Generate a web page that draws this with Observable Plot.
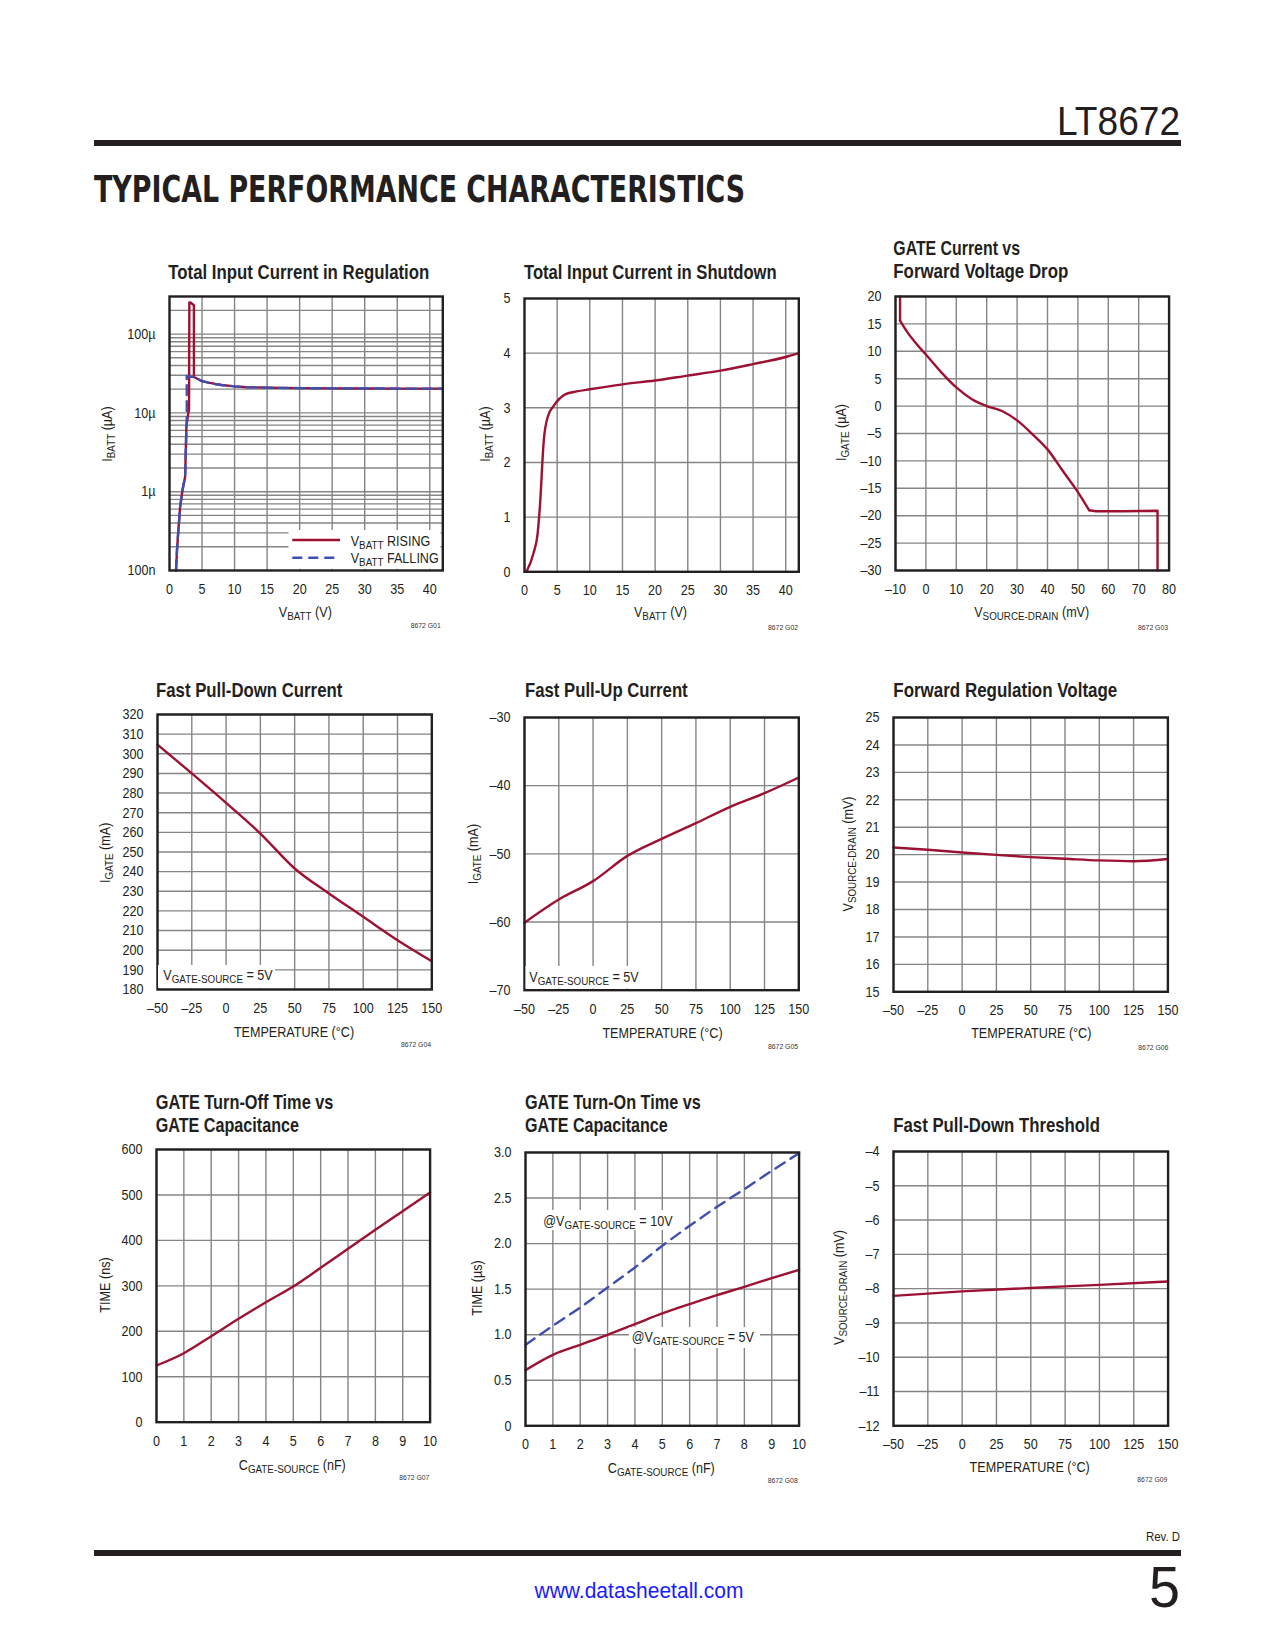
<!DOCTYPE html>
<html><head><meta charset="utf-8">
<script src="https://cdn.jsdelivr.net/npm/d3@7"></script>
<script src="https://cdn.jsdelivr.net/npm/@observablehq/plot@0.6"></script>
<style>
html,body{margin:0;padding:0;background:#fff;}
#page{position:relative;width:1275px;height:1650px;overflow:hidden;background:#fff;}
#page svg{position:absolute;}
</style></head><body><div id="page"></div>
<script>
// ---------------- DATA ----------------
// G01 Total Input Current in Regulation (I in µA, log)
const g01RiseV = [1.0, 1.15, 1.32, 1.63, 2.0, 2.4, 2.6, 2.85, 3.0, 3.05, 3.2, 3.75, 3.75, 4.5, 5, 6, 7, 8, 10, 12, 15, 20, 25, 30, 35, 42];
const g01RiseI = [0.1, 0.18, 0.29, 0.64, 1.05, 1.55, 6.7, 9.5, 11, 253, 253, 232, 28.5, 26.5, 25.3, 24.2, 23.3, 22.6, 21.7, 21.2, 20.9, 20.6, 20.45, 20.4, 20.35, 20.3];
const g01FallV = [1.0, 1.15, 1.32, 1.63, 2.0, 2.4, 2.6, 2.65, 2.65, 3.1, 3.75, 4.5, 5, 6, 7, 8, 10, 12, 15, 20, 25, 30, 35, 42];
const g01FallI = [0.1, 0.18, 0.29, 0.64, 1.05, 1.55, 6.7, 8, 29.5, 29.0, 28.5, 26.5, 25.3, 24.2, 23.3, 22.6, 21.7, 21.2, 20.9, 20.6, 20.45, 20.4, 20.35, 20.3];
const vbattTicks = [0, 5, 10, 15, 20, 25, 30, 35, 40];
const g01YTicks = [0.1, 1, 10, 100];
const g01YLabels = ["100n", "1µ", "10µ", "100µ"];

// G02 Total Input Current in Shutdown (µA)
const g02V = [0.3, 1.4, 2.0, 2.35, 2.95, 3.6, 4.5, 6.3, 8, 10, 15, 20, 25, 30, 35, 40, 42];
const g02I = [0, 0.35, 0.69, 1.18, 2.4, 2.85, 3.04, 3.25, 3.3, 3.34, 3.43, 3.5, 3.59, 3.68, 3.8, 3.93, 4.0];
const g02YTicks = [0, 1, 2, 3, 4, 5];

// G03 GATE Current vs Forward Voltage Drop
const g03V = [-8.5, -8.5, -6, -3, 0, 5, 10, 15, 20, 25, 30, 35, 40, 45, 50, 53.7, 56, 65, 76.2, 76.2];
const g03I = [20, 15.6, 13.4, 11.3, 9.4, 6.2, 3.4, 1.3, 0, -0.9, -2.6, -5.1, -7.9, -11.8, -15.7, -19.0, -19.2, -19.2, -19.1, -30];
const g03XTicks = [-10, 0, 10, 20, 30, 40, 50, 60, 70, 80];
const g03YTicks = [-30, -25, -20, -15, -10, -5, 0, 5, 10, 15, 20];

// Temperature charts
const tempC = [-50, -25, 0, 25, 50, 75, 100, 125, 150];
const g04I = [304.7, 290, 275, 259.4, 241.6, 228.9, 217, 205.1, 194.4];
const g04YTicks = [180, 190, 200, 210, 220, 230, 240, 250, 260, 270, 280, 290, 300, 310, 320];
const g05I = [-60.1, -56.7, -54.0, -50.3, -47.8, -45.5, -43.1, -41.1, -38.8];
const g05YTicks = [-70, -60, -50, -40, -30];
const g06V = [20.26, 20.18, 20.08, 19.99, 19.91, 19.85, 19.79, 19.76, 19.84];
const g06YTicks = [15, 16, 17, 18, 19, 20, 21, 22, 23, 24, 25];
const g09Temp = [-50, 0, 50, 100, 150];
const g09V = [-8.21, -8.08, -7.98, -7.89, -7.79];
const g09YTicks = [-12, -11, -10, -9, -8, -7, -6, -5, -4];

// Capacitance charts
const capNF = [0, 1, 2, 3, 4, 5, 6, 7, 8, 9, 10];
const g07T = [124.7, 151.8, 189.2, 227.4, 264, 298.5, 339.6, 381.4, 423.2, 464.3, 505.4];
const g07YTicks = [0, 100, 200, 300, 400, 500, 600];
const g08T5 = [0.611, 0.779, 0.889, 0.999, 1.116, 1.233, 1.336, 1.434, 1.526, 1.621, 1.712];
const g08T10 = [0.889, 1.098, 1.299, 1.518, 1.738, 1.976, 2.195, 2.404, 2.598, 2.799, 2.993];
const g08YTicks = [0, 0.5, 1.0, 1.5, 2.0, 2.5, 3.0];

// ---------------- STYLE ----------------
const FONT = "'Liberation Sans Narrow','Arial Narrow','Liberation Sans',Arial,sans-serif";
const RED = "#9d1232", BLUE = "#3e4fb0", GRID = "#858585", INK = "#231f20";
const NARROW = 0.84;
const page = document.getElementById("page");
const dash = d => (d < 0 ? "\u2013" + Math.abs(d) : String(d));
const pts = (xs, ys) => xs.map((x, i) => ({x, y: ys[i]}));

function chart(c) {
  const mL = 60, mR = 26, mT = 12, mB = 36;
  const W = c.fr - c.fl + mL + mR, H = c.fb - c.ft + mT + mB;
  const marks = [
    Plot.ruleX(c.xGrid, {stroke: GRID, strokeWidth: 1.4}),
    Plot.ruleY(c.yGrid, {stroke: GRID, strokeWidth: 1.4}),
    ...c.series.map(s => Plot.line(pts(s.x, s.y), {x: "x", y: "y", stroke: s.color, strokeWidth: 2.4,
      strokeDasharray: s.dash || null, curve: s.curve || c.curve || "monotone-x"})),
    Plot.frame({stroke: INK, strokeWidth: 2.4})
  ];
  const svg = Plot.plot({
    width: W, height: H, marginLeft: mL, marginRight: mR, marginTop: mT, marginBottom: mB,
    x: {type: c.xType || "linear", domain: c.xDomain, ticks: c.xTicks, tickFormat: c.xFmt || dash, tickSize: 0, tickPadding: 13, label: null},
    y: {type: c.yType || "linear", domain: c.yDomain, ticks: c.yTicks, tickFormat: c.yFmt || dash, tickSize: 0, tickPadding: 14, label: null},
    style: {fontSize: "15px", fontFamily: FONT, color: INK, background: "none", overflow: "visible"},
    marks
  });
  svg.style.left = (c.fl - mL) + "px";
  svg.style.top = (c.ft - mT) + "px";
  page.appendChild(svg);
  // condense tick labels around their anchor point
  svg.querySelectorAll("text").forEach(t => {
    const b = t.getBBox();
    const anc = getComputedStyle(t).textAnchor;
    const ax = anc === "end" ? b.x + b.width : anc === "middle" ? b.x + b.width / 2 : b.x;
    const tr = t.getAttribute("transform") || "";
    t.setAttribute("transform", `${tr} translate(${ax},0) scale(${NARROW},1) translate(${-ax},0)`);
  });
}

// G01
chart({fl: 168.7, fr: 442, ft: 296, fb: 570, xDomain: [0, 42], xTicks: vbattTicks, xGrid: vbattTicks.slice(1),
  yType: "log", yDomain: [0.1, 300], yTicks: g01YTicks, yFmt: d => g01YLabels[g01YTicks.indexOf(d)],
  yGrid: [0.2,0.3,0.4,0.5,0.6,0.7,0.8,0.9,1,2,3,4,5,6,7,8,9,10,20,30,40,50,60,70,80,90,100,200],
  curve: "linear",
  series: [{x: g01RiseV, y: g01RiseI, color: RED}, {x: g01FallV, y: g01FallI, color: BLUE, dash: "10,6"}]});
// G02
chart({fl: 524, fr: 798.3, ft: 297.7, fb: 571, xDomain: [0, 42], xTicks: vbattTicks, xGrid: vbattTicks.slice(1),
  yDomain: [0, 5], yTicks: g02YTicks, yGrid: [1, 2, 3, 4],
  series: [{x: g02V, y: g02I, color: RED}]});
// G03 (vertical ends drawn straight, the middle smooth)
chart({fl: 894.7, fr: 1168.3, ft: 296, fb: 570, xDomain: [-10, 80], xTicks: g03XTicks, xGrid: g03XTicks,
  yDomain: [-30, 20], yTicks: g03YTicks, yGrid: g03YTicks,
  series: [
    {x: g03V.slice(0, 2), y: g03I.slice(0, 2), color: RED, curve: "linear"},
    {x: g03V.slice(1, 16), y: g03I.slice(1, 16), color: RED, curve: "monotone-x"},
    {x: g03V.slice(15), y: g03I.slice(15), color: RED, curve: "linear"}
  ]});
// G04
chart({fl: 156.7, fr: 431, ft: 714.3, fb: 989.3, xDomain: [-50, 150], xTicks: tempC, xGrid: tempC,
  yDomain: [180, 320], yTicks: g04YTicks, yGrid: g04YTicks,
  series: [{x: tempC, y: g04I, color: RED}]});
// G05
chart({fl: 524, fr: 798.3, ft: 717.3, fb: 990, xDomain: [-50, 150], xTicks: tempC, xGrid: tempC,
  yDomain: [-70, -30], yTicks: g05YTicks, yGrid: g05YTicks,
  series: [{x: tempC, y: g05I, color: RED}]});
// G06
chart({fl: 893.3, fr: 1167.7, ft: 716.7, fb: 991, xDomain: [-50, 150], xTicks: tempC, xGrid: tempC,
  yDomain: [15, 25], yTicks: g06YTicks, yGrid: g06YTicks,
  series: [{x: tempC, y: g06V, color: RED}]});
// G07
chart({fl: 155.7, fr: 429.3, ft: 1149, fb: 1421.7, xDomain: [0, 10], xTicks: capNF, xGrid: capNF,
  yDomain: [0, 600], yTicks: g07YTicks, yGrid: g07YTicks,
  series: [{x: capNF, y: g07T, color: RED}]});
// G08
chart({fl: 524.7, fr: 798.3, ft: 1151.7, fb: 1425, xDomain: [0, 10], xTicks: capNF, xGrid: capNF,
  yDomain: [0, 3], yTicks: g08YTicks, yGrid: g08YTicks, yFmt: d => d === 0 ? "0" : d.toFixed(1),
  series: [{x: capNF, y: g08T5, color: RED}, {x: capNF, y: g08T10, color: BLUE, dash: "11,7"}]});
// G09
chart({fl: 892.7, fr: 1167.3, ft: 1150.7, fb: 1425, xDomain: [-50, 150], xTicks: tempC, xGrid: tempC,
  yDomain: [-12, -4], yTicks: g09YTicks, yGrid: g09YTicks,
  series: [{x: g09Temp, y: g09V, color: RED}]});

// ---------------- TEXT OVERLAY ----------------
const sub = (m, s, r) => `${m}<tspan font-size="0.78em" dy="3">${s}</tspan><tspan dy="-3">${r}</tspan>`;
const T = (x, y, html, o = {}) => {
  const a = [`x="${x}"`, `y="${y}"`, `font-size="${o.size || 15}"`, `fill="${o.fill || INK}"`];
  if (o.anchor) a.push(`text-anchor="${o.anchor}"`);
  if (o.weight) a.push(`font-weight="${o.weight}"`);
  if (o.len) a.push(`textLength="${o.len}" lengthAdjust="spacingAndGlyphs"`);
  if (o.family) a.push(`font-family="${o.family}"`);
  return `<text ${a.join(" ")}>${html}</text>`;
};
// condensed text (no textLength) positioned by transform
const N = (x, y, html, anchor, rot) =>
  `<g transform="translate(${x},${y})${rot ? " rotate(-90)" : ""} scale(${NARROW},1)">${T(0, 0, html, {anchor})}</g>`;
const R = (x, y, html) => N(x, y, html, "middle", true);
const title = (x, y, s, len) => T(x, y, s, {size: 21, weight: "bold", len});
const fig = (x, y, s) => T(x, y, s, {size: 6.5, anchor: "end", len: 30, fill: "#333"});
const box = (x, y, w, h) => `<rect x="${x}" y="${y}" width="${w}" height="${h}" fill="#fff"/>`;

let o = "";
// header / footer
o += T(1180, 135, "LT8672", {size: 41, anchor: "end", len: 123});
o += `<rect x="94" y="140" width="1087" height="6" fill="${INK}"/>`;
o += T(94, 202, "TYPICAL PERFORMANCE CHARACTERISTICS", {size: 38, weight: "900", len: 651, family: "'DejaVu Sans',sans-serif"});
o += T(1180, 1541, "Rev. D", {size: 12.5, anchor: "end", len: 34});
o += `<rect x="94" y="1550" width="1087" height="6" fill="${INK}"/>`;
o += T(1180, 1607, "5", {size: 58, anchor: "end", len: 31});
o += T(639, 1598, "www.datasheetall.com", {size: 22, anchor: "middle", len: 209, fill: "#1a1aff"});

// G01
o += title(168.3, 278.5, "Total Input Current in Regulation", 261);
o += R(112, 434, sub("I", "BATT", " (µA)"));
o += N(305.3, 617, sub("V", "BATT", " (V)"), "middle");
o += fig(440.7, 627.5, "8672 G01");
o += box(288.5, 530, 152, 38.8);
o += `<line x1="292.3" x2="340" y1="540" y2="540" stroke="${RED}" stroke-width="2.4"/>`;
o += `<line x1="292.3" x2="340" y1="557.7" y2="557.7" stroke="${BLUE}" stroke-width="2.4" stroke-dasharray="10,6"/>`;
o += N(350.7, 545.5, sub("V", "BATT", " RISING"));
o += N(350.7, 563, sub("V", "BATT", " FALLING"));
// G02
o += title(524, 278.5, "Total Input Current in Shutdown", 252.7);
o += R(490, 434, sub("I", "BATT", " (µA)"));
o += N(660.5, 617, sub("V", "BATT", " (V)"), "middle");
o += fig(798, 630, "8672 G02");
// G03
o += title(893.3, 255, "GATE Current vs", 126.7);
o += title(893.3, 278.3, "Forward Voltage Drop", 175);
o += R(846, 432.5, sub("I", "GATE", " (µA)"));
o += N(1031.7, 617, sub("V", "SOURCE-DRAIN", " (mV)"), "middle");
o += fig(1168, 630, "8672 G03");
// G04
o += title(156, 696.7, "Fast Pull-Down Current", 186.3);
o += R(110, 852.8, sub("I", "GATE", " (mA)"));
o += N(294, 1037, "TEMPERATURE (°C)", "middle");
o += fig(431, 1046.5, "8672 G04");
o += box(158, 965, 117, 23);
o += N(163.3, 979.5, sub("V", "GATE-SOURCE", " = 5V"));
// G05
o += title(525, 696.7, "Fast Pull-Up Current", 162.7);
o += R(478, 854, sub("I", "GATE", " (mA)"));
o += N(662.5, 1038, "TEMPERATURE (°C)", "middle");
o += fig(798, 1049, "8672 G05");
o += box(525.5, 966, 120, 22.5);
o += N(529.3, 981.7, sub("V", "GATE-SOURCE", " = 5V"));
// G06
o += title(893.3, 696.7, "Forward Regulation Voltage", 224);
o += R(853, 854, sub("V", "SOURCE-DRAIN", " (mV)"));
o += N(1031.3, 1038, "TEMPERATURE (°C)", "middle");
o += fig(1168.3, 1050, "8672 G06");
// G07
o += title(155.7, 1109.3, "GATE Turn-Off Time vs", 177.7);
o += title(155.7, 1132, "GATE Capacitance", 143.3);
o += R(110, 1285, "TIME (ns)");
o += N(292.3, 1470, sub("C", "GATE-SOURCE", " (nF)"), "middle");
o += fig(429.3, 1480, "8672 G07");
// G08
o += title(525, 1109.3, "GATE Turn-On Time vs", 175.7);
o += title(525, 1132, "GATE Capacitance", 142.7);
o += R(482, 1288, "TIME (µs)");
o += N(661.3, 1473, sub("C", "GATE-SOURCE", " (nF)"), "middle");
o += fig(797.7, 1483, "8672 G08");
o += box(541, 1210, 134, 20);
o += N(543.3, 1226, sub("@V", "GATE-SOURCE", " = 10V"));
o += box(629, 1327, 131, 21);
o += N(631.7, 1342.3, sub("@V", "GATE-SOURCE", " = 5V"));
// G09
o += title(893.3, 1131.7, "Fast Pull-Down Threshold", 206.7);
o += R(844, 1287.5, sub("V", "SOURCE-DRAIN", " (mV)"));
o += N(1029.7, 1471.7, "TEMPERATURE (°C)", "middle");
o += fig(1167.3, 1481.7, "8672 G09");

const ov = document.createElementNS("http://www.w3.org/2000/svg", "svg");
ov.setAttribute("width", 1275); ov.setAttribute("height", 1650);
ov.setAttribute("font-family", FONT);
ov.style.left = "0px"; ov.style.top = "0px";
ov.innerHTML = o;
page.appendChild(ov);
</script></body></html>
